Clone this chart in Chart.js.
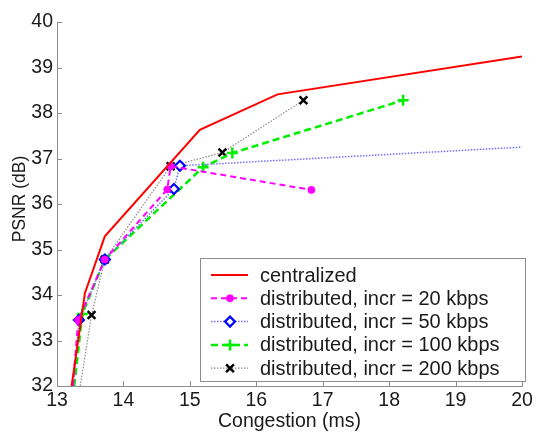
<!DOCTYPE html>
<html>
<head>
<meta charset="utf-8">
<script src="https://cdn.jsdelivr.net/npm/chart.js@4"></script>
<style>
html,body{margin:0;padding:0;background:#fff;}
canvas{display:block;}
</style>
</head>
<body>
<canvas id="c" width="536" height="432"></canvas>
<script>
const seriesNames = ['centralized','distributed, incr = 20 kbps','distributed, incr = 50 kbps','distributed, incr = 100 kbps','distributed, incr = 200 kbps'];
const centralizedX = [13.22, 13.42, 13.72, 15.15, 16.32, 20.0];
const centralizedY = [32.0, 34.04, 35.29, 37.63, 38.41, 39.24];
const incr20X = [13.24, 13.32, 13.72, 14.66, 14.71, 16.83];
const incr20Y = [32.0, 33.45, 34.78, 36.32, 36.83, 36.31];
const incr50X = [13.25, 13.33, 13.72, 14.76, 14.85, 20.0];
const incr50Y = [32.0, 33.45, 34.78, 36.33, 36.84, 37.25];
const incr100X = [13.26, 13.38, 13.72, 15.2, 15.64, 18.21];
const incr100Y = [32.0, 33.58, 34.78, 36.81, 37.12, 38.28];
const incr200X = [13.35, 13.52, 13.72, 14.71, 15.49, 16.71];
const incr200Y = [32.0, 33.56, 34.78, 36.83, 37.13, 38.28];
const xTicks = [13, 14, 15, 16, 17, 18, 19, 20];
const yTicks = [32, 33, 34, 35, 36, 37, 38, 39, 40];
const xTitle = 'Congestion (ms)';
const yTitle = 'PSNR (dB)';

function pts(xs, ys){ return xs.map((x,i)=>({x:x, y:ys[i]})); }
// points lying on the plot edge (clipped in the original) carry no marker
function radii(xs, ys, r){ return xs.map((x,i)=> (ys[i] <= 32 || x >= 20) ? 0 : r); }

const FONT = "'Liberation Sans', Arial, sans-serif";

const datasets = [
  {label: seriesNames[0], data: pts(centralizedX, centralizedY), borderColor:'#ff0000', borderWidth:2, pointRadius:0, pointStyle:false, mk:null},
  {label: seriesNames[1], data: pts(incr20X, incr20Y), borderColor:'#ff00ff', borderWidth:2, borderDash:[6,4],
    pointStyle:'circle', pointRadius:radii(incr20X, incr20Y, 3.5), backgroundColor:'#ff00ff', pointBorderColor:'#ff00ff', pointBorderWidth:1, mk:'circle'},
  {label: seriesNames[2], data: pts(incr50X, incr50Y), borderColor:'#7070ff', borderWidth:1.5, borderDash:[1.5,1.5],
    pointStyle:'rectRot', pointRadius:radii(incr50X, incr50Y, 5), backgroundColor:'#ffffff', pointBorderColor:'#0000ff', pointBorderWidth:2.2, mk:'rectRot'},
  {label: seriesNames[3], data: pts(incr100X, incr100Y), borderColor:'#00ee00', borderWidth:2.5, borderDash:[7,4],
    pointStyle:'cross', pointRadius:radii(incr100X, incr100Y, 5.5), backgroundColor:'#00ee00', pointBorderColor:'#00ee00', pointBorderWidth:2.5, mk:'cross'},
  {label: seriesNames[4], data: pts(incr200X, incr200Y), borderColor:'#8a8a8a', borderWidth:1.2, borderDash:[1.5,1.5],
    pointStyle:'crossRot', pointRadius:radii(incr200X, incr200Y, 5.5), backgroundColor:'#000000', pointBorderColor:'#000000', pointBorderWidth:2.5, mk:'crossRot'}
];
datasets.forEach(d=>{ d.fill=false; d.tension=0; d.showLine=true; });

const decor = {
  id:'decor',
  afterDraw(chart){
    const ctx = chart.ctx, xs = chart.scales.x, ys = chart.scales.y, ca = chart.chartArea;
    ctx.save();
    // inward ticks
    ctx.strokeStyle = '#8c8c8c'; ctx.lineWidth = 1;
    xTicks.forEach(v=>{ const p = Math.round(xs.getPixelForValue(v))+0.5; ctx.beginPath(); ctx.moveTo(p, ca.bottom); ctx.lineTo(p, ca.bottom-5); ctx.stroke(); });
    yTicks.forEach(v=>{ const p = Math.round(ys.getPixelForValue(v))+0.5; ctx.beginPath(); ctx.moveTo(ca.left, p); ctx.lineTo(ca.left+5, p); ctx.stroke(); });
    // axis titles
    ctx.fillStyle = '#1a1a1a';
    ctx.font = '19.5px ' + FONT;
    ctx.textAlign = 'center'; ctx.textBaseline = 'middle';
    ctx.fillText(xTitle, (ca.left+ca.right)/2, 422);
    ctx.font = '17.5px ' + FONT;
    ctx.save(); ctx.translate(20, 199); ctx.rotate(-Math.PI/2); ctx.fillText(yTitle, 0, 0); ctx.restore();
    // legend box
    const bx = 200.5, by = 258.5, bw = 325, bh = 123;
    ctx.fillStyle = '#ffffff'; ctx.fillRect(bx, by, bw, bh);
    ctx.strokeStyle = '#8c8c8c'; ctx.lineWidth = 1; ctx.strokeRect(bx, by, bw, bh);
    ctx.font = '20px ' + FONT; ctx.textAlign = 'left'; ctx.textBaseline = 'middle';
    datasets.forEach((d,i)=>{
      const y = 275 + i*23.3;
      ctx.save();
      ctx.strokeStyle = d.borderColor; ctx.lineWidth = d.borderWidth;
      ctx.setLineDash(d.borderDash || []);
      ctx.beginPath(); ctx.moveTo(211, y); ctx.lineTo(248, y); ctx.stroke();
      ctx.setLineDash([]);
      if (d.mk) {
        const r = Math.max.apply(null, d.pointRadius);
        ctx.fillStyle = d.backgroundColor; ctx.strokeStyle = d.pointBorderColor; ctx.lineWidth = d.pointBorderWidth;
        Chart.helpers.drawPoint(ctx, {pointStyle:d.mk, radius:r, rotation:0, borderWidth:d.pointBorderWidth}, 230, y);
      }
      ctx.restore();
      ctx.fillStyle = '#1a1a1a';
      ctx.fillText(d.label, 260, y+1);
    });
    ctx.restore();
  }
};

new Chart(document.getElementById('c'), {
  type:'line',
  data:{datasets:datasets},
  options:{
    responsive:false, animation:false, devicePixelRatio:1,
    layout:{padding:{top:22, right:14, left:0, bottom:0}},
    plugins:{legend:{display:false}, tooltip:{enabled:false}},
    scales:{
      x:{type:'linear', min:13, max:20,
        afterBuildTicks(s){ s.ticks = xTicks.map(v=>({value:v})); },
        afterFit(s){ s.height = 46; },
        ticks:{color:'#1a1a1a', font:{family:FONT, size:19.5}, padding:3, maxRotation:0},
        grid:{drawOnChartArea:false, drawTicks:false},
        border:{color:'#8c8c8c', width:1}},
      y:{type:'linear', min:32, max:40,
        afterBuildTicks(s){ s.ticks = yTicks.map(v=>({value:v})); },
        afterFit(s){ s.width = 57; },
        ticks:{color:'#1a1a1a', font:{family:FONT, size:19.5}, padding:4},
        grid:{drawOnChartArea:false, drawTicks:false},
        border:{color:'#8c8c8c', width:1}}
    }
  },
  plugins:[decor]
});
</script>
</body>
</html>
